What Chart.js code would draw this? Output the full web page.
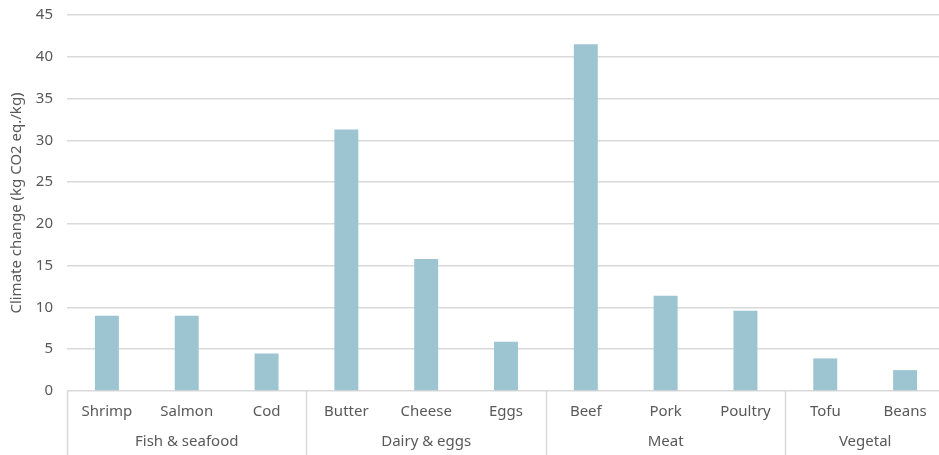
<!DOCTYPE html>
<html>
<head>
<meta charset="utf-8">
<script src="https://cdn.jsdelivr.net/npm/chart.js@4"></script>
<style>
  html, body { margin: 0; padding: 0; background: #fff; overflow: hidden; }
  #wrap { width: 945px; height: 455px; position: relative; }
</style>
</head>
<body>
<div id="wrap"><canvas id="chart"></canvas></div>
<script>
const categories = ['Shrimp', 'Salmon', 'Cod', 'Butter', 'Cheese', 'Eggs', 'Beef', 'Pork', 'Poultry', 'Tofu', 'Beans'];
const climateValues = [9.0, 9.0, 4.5, 31.3, 15.8, 5.9, 41.5, 11.4, 9.6, 3.9, 2.5];
const groupNames = ['Fish & seafood', 'Dairy & eggs', 'Meat', 'Vegetal'];
const groupSizes = [3, 3, 3, 2];
const yTicks = [0, 5, 10, 15, 20, 25, 30, 35, 40, 45];

const fontFamily = '"Noto Sans", "Open Sans", sans-serif';
const textColor = '#595959';

// draws the second row of x labels (groups) and the separators
const groupAxis = {
  id: 'groupAxis',
  afterDraw(chart) {
    const ctx = chart.ctx;
    const x = chart.scales.x;
    const area = chart.chartArea;
    const bottom = chart.height;
    ctx.save();
    ctx.strokeStyle = '#d9d9d9';
    ctx.lineWidth = 1.5;
    ctx.fillStyle = textColor;
    ctx.font = '15px ' + fontFamily;
    ctx.textAlign = 'center';
    ctx.textBaseline = 'middle';

    let start = 0;
    groupSizes.forEach(function (size, g) {
      const end = start + size - 1;
      const left = start === 0 ? area.left : (x.getPixelForValue(start - 1) + x.getPixelForValue(start)) / 2;
      const right = end === categories.length - 1 ? area.right : (x.getPixelForValue(end) + x.getPixelForValue(end + 1)) / 2;

      ctx.beginPath();
      ctx.moveTo(Math.round(left) + 0.5, area.bottom);
      ctx.lineTo(Math.round(left) + 0.5, bottom);
      ctx.stroke();

      ctx.fillText(groupNames[g], (left + right) / 2, 442);
      start = end + 1;
    });
    ctx.restore();
  }
};

const ctx = document.getElementById('chart');
const chart = new Chart(ctx, {
  type: 'bar',
  data: {
    labels: categories,
    datasets: [
      {
        label: 'Climate change',
        data: climateValues,
        backgroundColor: '#9cc4d1',
        borderWidth: 0,
        categoryPercentage: 1,
        barPercentage: 0.3
      }
    ]
  },
  options: {
    responsive: true,
    maintainAspectRatio: false,
    animation: false,
    layout: { padding: 0 },
    plugins: {
      legend: { display: false },
      tooltip: { enabled: false }
    },
    scales: {
      x: {
        grid: { display: false },
        border: { display: false },
        ticks: {
          color: textColor,
          font: { family: fontFamily, size: 15 },
          padding: 4,
          maxRotation: 0,
          autoSkip: false
        },
        afterFit: function (scale) { scale.height = 64; }
      },
      y: {
        min: 0,
        max: 45,
        afterBuildTicks: function (scale) {
          scale.ticks = yTicks.map(function (v) { return { value: v }; });
        },
        grid: { color: '#d9d9d9', lineWidth: 1.5, drawTicks: false },
        border: { display: false },
        ticks: {
          color: textColor,
          font: { family: fontFamily, size: 15 },
          padding: 14
        },
        title: {
          display: true,
          text: 'Climate change (kg CO2 eq./kg)',
          color: textColor,
          font: { family: fontFamily, size: 15 },
          padding: { top: 8, bottom: 0 }
        },
        afterFit: function (scale) {
          scale.width = 67;
          scale.paddingTop = 15;
          scale.paddingBottom = 0;
        }
      }
    }
  },
  plugins: [groupAxis]
});
</script>
</body>
</html>
